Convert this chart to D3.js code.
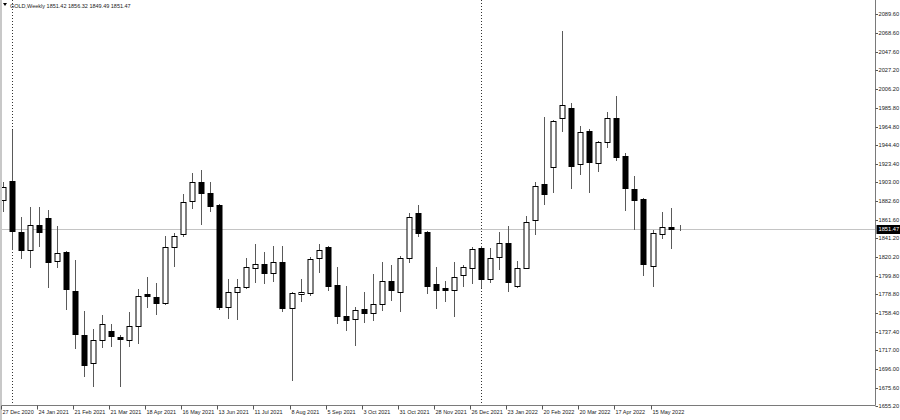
<!DOCTYPE html>
<html><head><meta charset="utf-8">
<script src="https://cdn.jsdelivr.net/npm/d3@7"></script>
<style>html,body{margin:0;padding:0;background:#fff;overflow:hidden}svg{display:block}</style>
</head><body><svg id="c" width="900" height="420"></svg>
<script>
const symbolTitle = "GOLD,Weekly";
const lastOHLC = [1851.42, 1856.32, 1849.49, 1851.47];
const firstWeek = "27 Dec 2020";

const opens = [1883.5,1904.5,1848.0,1828.1,1855.8,1863.5,1815.9,1825.9,1782.6,1733.9,
1702.9,1728.3,1738.3,1731.7,1728.3,1743.9,1778.8,1776.0,1769.3,1831.4,
1845.8,1882.4,1903.4,1891.2,1877.9,1764.9,1781.5,1787.1,1808.1,1812.6,
1802.6,1814.8,1763.8,1779.3,1780.4,1819.2,1831.4,1789.3,1754.9,1751.6,
1762.7,1758.3,1768.2,1793.7,1781.5,1819.2,1869.1,1848.0,1790.4,1786.0,
1783.7,1800.4,1808.1,1830.3,1795.9,1820.3,1835.8,1788.2,1808.1,1861.3,
1901.2,1920.1,1974.4,1985.4,1923.4,1959.9,1924.5,1947.8,1974.4,1932.2,
1895.7,1884.6,1810.3,1845.8,1853.6,1851.42];
const highs = [1903.4,1961.1,1864.6,1875.7,1875.7,1872.4,1854.7,1827.0,1817.0,1760.5,
1740.5,1756.0,1746.1,1733.9,1759.4,1784.9,1798.2,1791.5,1843.6,1846.9,
1890.1,1913.4,1916.7,1903.4,1879.0,1795.9,1795.9,1819.2,1834.7,1825.9,
1832.5,1832.5,1782.0,1795.9,1820.3,1834.7,1833.0,1809.2,1788.2,1764.9,
1781.5,1801.5,1814.8,1811.5,1821.0,1869.1,1877.9,1849.1,1809.2,1793.7,
1814.8,1811.5,1831.4,1832.0,1830.3,1848.0,1854.7,1815.9,1865.8,1903.4,
1975.5,1972.1,2070.8,1991.0,1965.5,1962.0,1949.0,1981.0,1998.7,1935.6,
1910.1,1885.7,1850.2,1870.2,1874.6,1856.32];
const lows = [1870.2,1828.1,1818.1,1808.1,1831.4,1786.0,1808.1,1761.6,1718.4,1687.3,
1676.3,1719.5,1720.6,1676.3,1720.6,1723.9,1763.8,1756.0,1767.1,1809.2,
1842.5,1873.5,1855.8,1870.2,1761.6,1751.6,1750.5,1784.9,1791.5,1790.4,
1792.6,1759.4,1683.0,1770.5,1777.1,1802.6,1782.6,1746.1,1738.3,1721.7,
1747.2,1749.4,1760.5,1771.6,1759.4,1813.7,1842.5,1779.3,1762.7,1770.5,
1753.8,1787.1,1790.4,1786.0,1791.5,1805.9,1781.5,1786.0,1807.0,1844.7,
1877.9,1891.2,1958.8,1895.7,1911.2,1891.2,1914.5,1941.1,1926.7,1871.3,
1850.2,1799.3,1787.1,1840.3,1829.2,1849.49];
const closes = [1897.9,1849.1,1828.1,1855.8,1848.0,1814.8,1824.8,1784.9,1735.0,1700.6,
1728.3,1746.1,1732.8,1730.0,1743.9,1777.1,1777.1,1769.3,1831.4,1843.6,
1881.3,1903.4,1891.2,1876.8,1764.9,1781.5,1787.1,1809.2,1812.6,1802.6,
1814.8,1763.8,1780.4,1781.5,1818.1,1828.1,1788.2,1754.9,1750.5,1761.6,
1758.3,1768.2,1793.7,1783.7,1819.2,1864.6,1846.9,1788.2,1783.7,1783.7,
1798.2,1809.2,1829.2,1795.9,1819.2,1835.8,1792.6,1808.1,1859.1,1899.0,
1890.1,1971.0,1988.8,1921.2,1958.8,1925.6,1947.8,1974.4,1931.1,1896.8,
1883.5,1812.6,1846.9,1853.6,1851.3,1851.47];

const priceTicks = ["2089.60","2068.60","2047.60","2027.20","2006.20","1985.80","1964.80","1944.40",
"1923.40","1903.00","1882.60","1861.60","1841.20","1820.20","1799.80","1778.80","1758.40",
"1737.40","1717.00","1696.00","1675.60","1655.20"];
const dateLabels = ["27 Dec 2020","24 Jan 2021","21 Feb 2021","21 Mar 2021","18 Apr 2021","16 May 2021",
"13 Jun 2021","11 Jul 2021","8 Aug 2021","5 Sep 2021","3 Oct 2021","31 Oct 2021","28 Nov 2021",
"26 Dec 2021","23 Jan 2022","20 Feb 2022","20 Mar 2022","17 Apr 2022","15 May 2022"];
const separatorDates = ["3 Jan 2021","2 Jan 2022"];

const parse = d3.timeParse("%d %b %Y");
const start = parse(firstWeek);
const weeks = d3.range(opens.length).map(i => d3.timeWeek.offset(start, i));
const bars = weeks.map((w, i) => ({w, o: opens[i], h: highs[i], l: lows[i], c: closes[i]}));

const plot = {left: 2, right: 875.5, top: 0, bottom: 405.5};
const x = d3.scaleTime().domain([weeks[0], weeks[weeks.length - 1]]).range([2.7, 679.6]);
const y = d3.scaleLinear().domain([1655.2, 2089.6]).range([406, 14]);

const svg = d3.select("#c");
const font = "'Liberation Sans', Arial, sans-serif";
svg.append("rect").attr("width", 900).attr("height", 420).attr("fill", "#fff");

svg.append("defs").append("clipPath").attr("id", "clip")
  .append("rect").attr("x", plot.left).attr("y", 0)
  .attr("width", plot.right - plot.left).attr("height", plot.bottom);

const g = svg.append("g").attr("clip-path", "url(#clip)");

// current price line
const yLast = Math.round(y(lastOHLC[3])) + 0.5;
g.append("line").attr("x1", plot.left).attr("x2", plot.right)
  .attr("y1", yLast).attr("y2", yLast).attr("stroke", "#c4c4c4").attr("stroke-width", 1);

// period separators
g.selectAll("line.sep").data(separatorDates.map(parse)).join("line").attr("class", "sep")
  .attr("x1", d => Math.round(x(d)) + 0.5).attr("x2", d => Math.round(x(d)) + 0.5)
  .attr("y1", 0).attr("y2", plot.bottom)
  .attr("stroke", "#333").attr("stroke-width", 1).attr("stroke-dasharray", "1,2");

const cx = d => Math.round(x(d.w)) + 0.5;
const py = v => Math.round(y(v));

// wicks
g.selectAll("line.wick").data(bars).join("line").attr("class", "wick")
  .attr("x1", cx).attr("x2", cx)
  .attr("y1", d => py(d.h)).attr("y2", d => py(d.l))
  .attr("stroke", "#5a5a5a").attr("stroke-width", 1);

// bodies
g.selectAll("rect.body").data(bars).join("rect").attr("class", "body")
  .attr("x", d => cx(d) - 2.5)
  .attr("y", d => py(Math.max(d.o, d.c)) + 0.5)
  .attr("width", 5)
  .attr("height", d => Math.max(0, py(Math.min(d.o, d.c)) - py(Math.max(d.o, d.c))))
  .attr("fill", d => d.c > d.o ? "#fff" : "#000")
  .attr("stroke", "#000").attr("stroke-width", 1);

// frame
svg.append("rect").attr("x", 0).attr("y", 0).attr("width", 2).attr("height", 420).attr("fill", "#c8c8c8");
svg.append("line").attr("x1", plot.right).attr("x2", plot.right).attr("y1", 0).attr("y2", plot.bottom)
  .attr("stroke", "#7a7a7a");
svg.append("line").attr("x1", plot.left).attr("x2", plot.right).attr("y1", plot.bottom).attr("y2", plot.bottom)
  .attr("stroke", "#7a7a7a");

// price axis
const pa = svg.append("g");
priceTicks.forEach(t => {
  const yy = Math.round(y(+t)) + 0.5;
  pa.append("line").attr("x1", plot.right).attr("x2", plot.right + 2.5).attr("y1", yy).attr("y2", yy).attr("stroke", "#555");
  pa.append("text").attr("x", 878.5).attr("y", yy).attr("dy", "0.35em")
    .attr("font-family", font).attr("font-size", 5.7).attr("fill", "#222").text(t);
});
// last price box
pa.append("rect").attr("x", 876.5).attr("y", yLast - 4.5).attr("width", 23.5).attr("height", 9).attr("fill", "#000");
pa.append("text").attr("x", 878.5).attr("y", yLast).attr("dy", "0.35em")
  .attr("font-family", font).attr("font-size", 5.7).attr("fill", "#fff").text(lastOHLC[3].toFixed(2));

// time axis
const ta = svg.append("g");
dateLabels.forEach(lbl => {
  const xx = Math.round(x(parse(lbl)));
  ta.append("line").attr("x1", xx - 2 + 0.5).attr("x2", xx - 2 + 0.5).attr("y1", plot.bottom).attr("y2", plot.bottom + 4)
    .attr("stroke", "#555");
  ta.append("text").attr("x", xx - 0.5).attr("y", 414)
    .attr("font-family", font).attr("font-size", 5.5).attr("fill", "#222").text(lbl);
});

// header
svg.append("path").attr("d", "M3,3 L7,3 L5,6 Z").attr("fill", "#000");
svg.append("text").attr("x", 10).attr("y", 7.5).attr("font-family", font).attr("font-size", 5.5).attr("fill", "#222")
  .text(symbolTitle + "  " + lastOHLC.map(v => v.toFixed(2)).join(" "));
</script></body></html>
